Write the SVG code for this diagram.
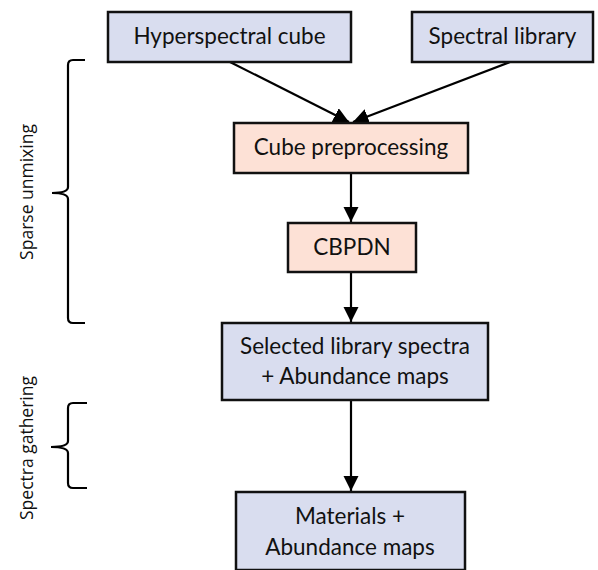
<svg xmlns="http://www.w3.org/2000/svg" width="598" height="570" viewBox="0 0 598 570">
  <defs>
    <marker id="arrow" viewBox="0 0 10 10" refX="10" refY="5" markerWidth="7" markerHeight="7" markerUnits="strokeWidth" orient="auto">
      <path d="M0,0 L10,5 L0,10 z" fill="#000"/>
    </marker>
    <style>
      .box { stroke: #111; stroke-width: 2.5; }
      .blue { fill: #d9ddef; }
      .pink { fill: #fde1d6; }
      .lbl { font-family: Lato, "Noto Sans", sans-serif; font-size: 22.5px; fill: #111; text-anchor: middle; }
      .edge { stroke: #000; stroke-width: 2.2; fill: none; marker-end: url(#arrow); }
      .brace { stroke: #000; stroke-width: 2.2; fill: none; }
      .side { font-family: "Open Sans", "Noto Sans", sans-serif; font-size: 17.5px; fill: #111; text-anchor: middle; }
    </style>
  </defs>
  <rect width="598" height="570" fill="#fff"/>

  <g id="connectors">
    <line class="edge" x1="230" y1="62" x2="349" y2="122"/>
    <line class="edge" x1="510" y1="62" x2="353" y2="122"/>
    <line class="edge" x1="351" y1="173" x2="351" y2="222"/>
    <line class="edge" x1="351" y1="272" x2="351" y2="322"/>
    <line class="edge" x1="351" y1="400" x2="351" y2="491"/>
  </g>

  <g id="hyperspectral-cube">
    <rect class="box blue" x="108" y="12" width="243" height="50"/>
    <text class="lbl" x="229.5" y="44">Hyperspectral cube</text>
  </g>
  <g id="spectral-library">
    <rect class="box blue" x="412" y="12" width="181" height="50"/>
    <text class="lbl" x="502.5" y="44">Spectral library</text>
  </g>
  <g id="cube-preprocessing">
    <rect class="box pink" x="234" y="123" width="234" height="50"/>
    <text class="lbl" x="351" y="155">Cube preprocessing</text>
  </g>
  <g id="cbpdn">
    <rect class="box pink" x="288" y="223" width="128" height="49"/>
    <text class="lbl" x="352" y="255">CBPDN</text>
  </g>
  <g id="selected-spectra">
    <rect class="box blue" x="222" y="323" width="266" height="77"/>
    <text class="lbl" x="355" y="354">Selected library spectra</text>
    <text class="lbl" x="355" y="384">+ Abundance maps</text>
  </g>
  <g id="materials">
    <rect class="box blue" x="236" y="492" width="229" height="78"/>
    <text class="lbl" x="350" y="524">Materials +</text>
    <text class="lbl" x="350" y="555">Abundance maps</text>
  </g>

  <g id="sparse-unmixing">
    <path class="brace" d="M85,60 L73,60 Q68,60 68,65 L68,187 Q68,193 52,193 Q68,193 68,199 L68,318 Q68,323 73,323 L85,323"/>
    <text class="side" transform="translate(33,192) rotate(-90)">Sparse unmixing</text>
  </g>
  <g id="spectra-gathering">
    <path class="brace" d="M87,403 L73,403 Q68,403 68,408 L68,441 Q68,447 51,447 Q68,447 68,453 L68,483 Q68,488 73,488 L87,488"/>
    <text class="side" transform="translate(33,448) rotate(-90)">Spectra gathering</text>
  </g>
</svg>
